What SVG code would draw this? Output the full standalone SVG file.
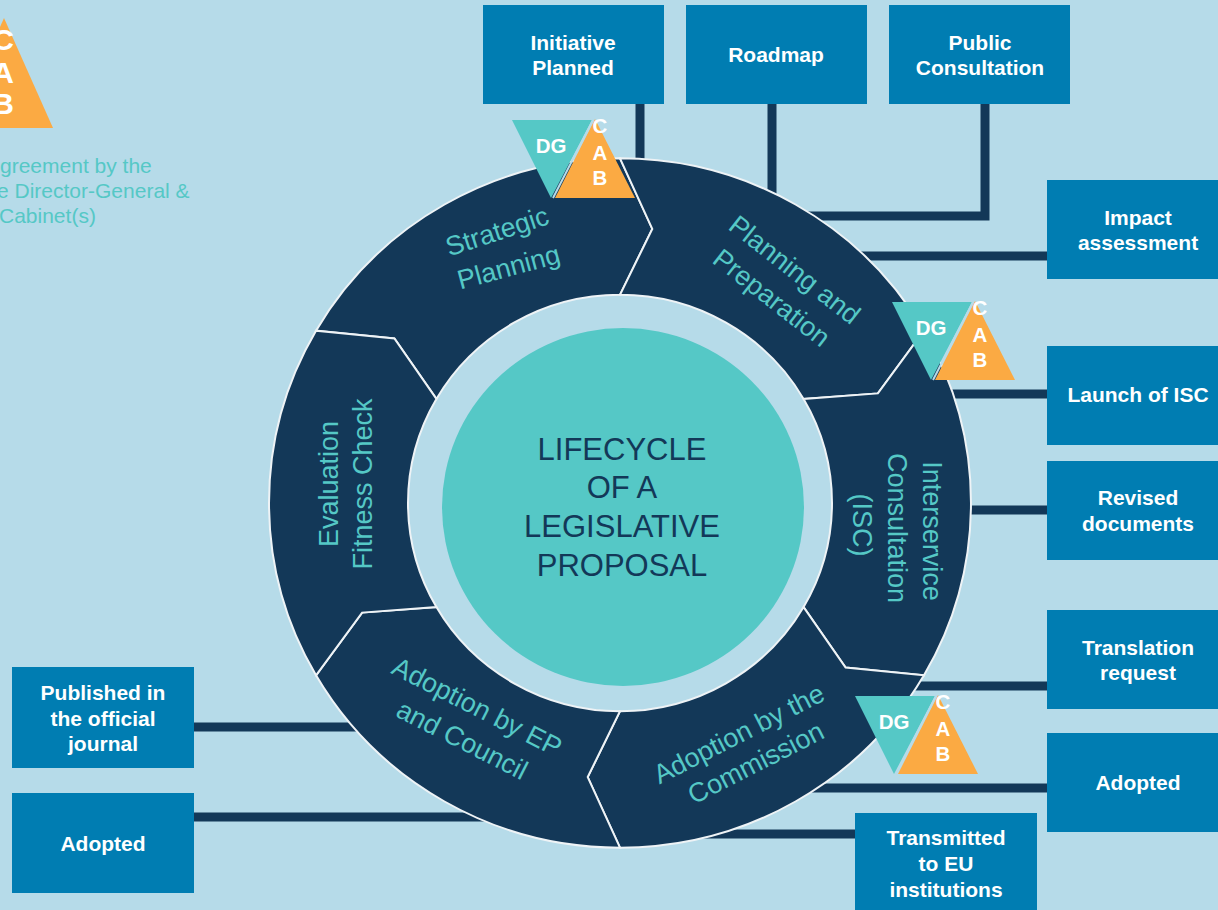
<svg xmlns="http://www.w3.org/2000/svg" width="1218" height="910" viewBox="0 0 1218 910">
<style>
.box{fill:#007db2}
.bt{font-family:"Liberation Sans",Arial,sans-serif;font-weight:bold;font-size:21px;fill:#ffffff;text-anchor:middle}
.con{stroke:#133858;stroke-width:9;fill:none}
.seg{fill:#133858;stroke:#eef3f6;stroke-width:2}
.st{font-family:"Liberation Sans",Arial,sans-serif;font-size:27px;fill:#55c8c6;text-anchor:middle}
.ct{font-family:"Liberation Sans",Arial,sans-serif;font-size:31px;fill:#133858;text-anchor:middle}
.dg{fill:#55c8c6}
.cab{fill:#fbaa43}
.gap{stroke:#b6dbe9;stroke-width:2}
.it{font-family:"Liberation Sans",Arial,sans-serif;font-weight:bold;font-size:20.5px;fill:#ffffff;text-anchor:middle}
.lg{font-family:"Liberation Sans",Arial,sans-serif;font-weight:bold;font-size:30px;fill:#ffffff;text-anchor:middle}
.lt{font-family:"Liberation Sans",Arial,sans-serif;font-size:21px;fill:#55c8c6}
</style>
<rect x="0" y="0" width="1218" height="910" fill="#b6dbe9"/>

<g id="connectors">
<path class="con" d="M640 104 V200"/>
<path class="con" d="M772 104 V230"/>
<path class="con" d="M985 104 V216 H805"/>
<path class="con" d="M840 256 H1047"/>
<path class="con" d="M930 394 H1047"/>
<path class="con" d="M950 510 H1047"/>
<path class="con" d="M900 686 H1047"/>
<path class="con" d="M800 788 H1047"/>
<path class="con" d="M680 834 H855"/>
<path class="con" d="M193 727 H370"/>
<path class="con" d="M193 817 H500"/>
</g>

<g id="ring" transform="translate(620,503) scale(1,0.982)">
<path id="seg-strategic" class="seg" d="M-303.97 -175.5 A351 351 0 0 1 0 -351 L32.3 -279.1 L0 -212 A212 212 0 0 0 -183.6 -106 L-225.6 -167.5 Z"/>
<path id="seg-planning" class="seg" d="M0 -351 A351 351 0 0 1 303.97 -175.5 L257.9 -111.6 L183.6 -106 A212 212 0 0 0 0 -212 L32.3 -279.1 Z"/>
<path id="seg-isc" class="seg" d="M303.97 -175.5 A351 351 0 0 1 303.97 175.5 L225.6 167.5 L183.6 106 A212 212 0 0 0 183.6 -106 L257.9 -111.6 Z"/>
<path id="seg-commission" class="seg" d="M303.97 175.5 A351 351 0 0 1 0 351 L-32.3 279.1 L0 212 A212 212 0 0 0 183.6 106 L225.6 167.5 Z"/>
<path id="seg-ep" class="seg" d="M0 351 A351 351 0 0 1 -303.97 175.5 L-257.9 111.6 L-183.6 106 A212 212 0 0 0 0 212 L-32.3 279.1 Z"/>
<path id="seg-eval" class="seg" d="M-303.97 175.5 A351 351 0 0 1 -303.97 -175.5 L-225.6 -167.5 L-183.6 -106 A212 212 0 0 0 -183.6 106 L-257.9 111.6 Z"/>
</g>

<g id="label-strategic">
<text class="st" transform="translate(500,240) rotate(-18)">Strategic</text>
<text class="st" transform="translate(511,276) rotate(-15)">Planning</text>
</g>
<g id="label-planning">
<text class="st" transform="translate(789,277) rotate(38)">Planning and</text>
<text class="st" transform="translate(766,305) rotate(38)">Preparation</text>
</g>
<g id="label-isc">
<text class="st" transform="translate(923,531) rotate(90)">Interservice</text>
<text class="st" transform="translate(888,528) rotate(90)">Consultation</text>
<text class="st" transform="translate(853,525) rotate(90)">(ISC)</text>
</g>
<g id="label-commission">
<text class="st" transform="translate(743,742) rotate(-27)">Adoption by the</text>
<text class="st" transform="translate(760,771) rotate(-27)">Commission</text>
</g>
<g id="label-ep">
<text class="st" transform="translate(473,715) rotate(27)">Adoption by EP</text>
<text class="st" transform="translate(458,748) rotate(27)">and Council</text>
</g>
<g id="label-eval">
<text class="st" transform="translate(338,484) rotate(-90)">Evaluation</text>
<text class="st" transform="translate(372,484) rotate(-90)">Fitness Check</text>
</g>

<g id="center">
<ellipse cx="623" cy="507" rx="181" ry="179" fill="#55c8c6"/>
<text class="ct" x="622" y="460">LIFECYCLE</text>
<text class="ct" x="622" y="498">OF A</text>
<text class="ct" x="622" y="537">LEGISLATIVE</text>
<text class="ct" x="622" y="576">PROPOSAL</text>
</g>

<g id="box-initiative">
<rect class="box" x="483" y="5" width="181" height="99"/>
<text class="bt" x="573" y="50">Initiative</text>
<text class="bt" x="573" y="75">Planned</text>
</g>
<g id="box-roadmap">
<rect class="box" x="686" y="5" width="181" height="99"/>
<text class="bt" x="776" y="62">Roadmap</text>
</g>
<g id="box-public">
<rect class="box" x="889" y="5" width="181" height="99"/>
<text class="bt" x="980" y="50">Public</text>
<text class="bt" x="980" y="75">Consultation</text>
</g>
<g id="box-impact">
<rect class="box" x="1047" y="180" width="181" height="99"/>
<text class="bt" x="1138" y="225">Impact</text>
<text class="bt" x="1138" y="250">assessment</text>
</g>
<g id="box-launch">
<rect class="box" x="1047" y="346" width="181" height="99"/>
<text class="bt" x="1138" y="402">Launch of ISC</text>
</g>
<g id="box-revised">
<rect class="box" x="1047" y="461" width="181" height="99"/>
<text class="bt" x="1138" y="505">Revised</text>
<text class="bt" x="1138" y="531">documents</text>
</g>
<g id="box-translation">
<rect class="box" x="1047" y="610" width="181" height="99"/>
<text class="bt" x="1138" y="655">Translation</text>
<text class="bt" x="1138" y="680">request</text>
</g>
<g id="box-adopted-right">
<rect class="box" x="1047" y="733" width="181" height="99"/>
<text class="bt" x="1138" y="790">Adopted</text>
</g>
<g id="box-transmitted">
<rect class="box" x="855" y="813" width="182" height="100"/>
<text class="bt" x="946" y="845">Transmitted</text>
<text class="bt" x="946" y="871">to EU</text>
<text class="bt" x="946" y="897">institutions</text>
</g>
<g id="box-published">
<rect class="box" x="12" y="667" width="182" height="101"/>
<text class="bt" x="103" y="700">Published in</text>
<text class="bt" x="103" y="726">the official</text>
<text class="bt" x="103" y="751">journal</text>
</g>
<g id="box-adopted-left">
<rect class="box" x="12" y="793" width="182" height="100"/>
<text class="bt" x="103" y="851">Adopted</text>
</g>

<g id="icon-1">
<polygon class="dg" points="512,120 592,120 551,198"/>
<polygon class="cab" points="555,198 635,198 595,119"/>
<line class="gap" x1="593.5" y1="119" x2="553" y2="198"/>
<text class="it" x="551" y="153">DG</text>
<text class="it" x="600" y="133">C</text>
<text class="it" x="600" y="160">A</text>
<text class="it" x="600" y="185">B</text>
</g>
<g id="icon-2">
<polygon class="dg" points="892,302 972,302 931,380"/>
<polygon class="cab" points="935,380 1015,380 975,301"/>
<line class="gap" x1="973.5" y1="301" x2="933" y2="380"/>
<text class="it" x="931" y="335">DG</text>
<text class="it" x="980" y="315">C</text>
<text class="it" x="980" y="342">A</text>
<text class="it" x="980" y="367">B</text>
</g>
<g id="icon-3">
<polygon class="dg" points="855,696 935,696 894,774"/>
<polygon class="cab" points="898,774 978,774 938,695"/>
<line class="gap" x1="936.5" y1="695" x2="896" y2="774"/>
<text class="it" x="894" y="729">DG</text>
<text class="it" x="943" y="709">C</text>
<text class="it" x="943" y="736">A</text>
<text class="it" x="943" y="761">B</text>
</g>

<g id="legend">
<polygon class="cab" points="4,18 53,128 -45,128"/>
<text class="lg" x="3" y="50">C</text>
<text class="lg" x="3" y="83">A</text>
<text class="lg" x="3" y="114">B</text>
<text class="lt" x="0" y="173">greement by the</text>
<text class="lt" x="-3" y="198">e Director-General &amp;</text>
<text class="lt" x="-1" y="223">Cabinet(s)</text>
</g>
</svg>
